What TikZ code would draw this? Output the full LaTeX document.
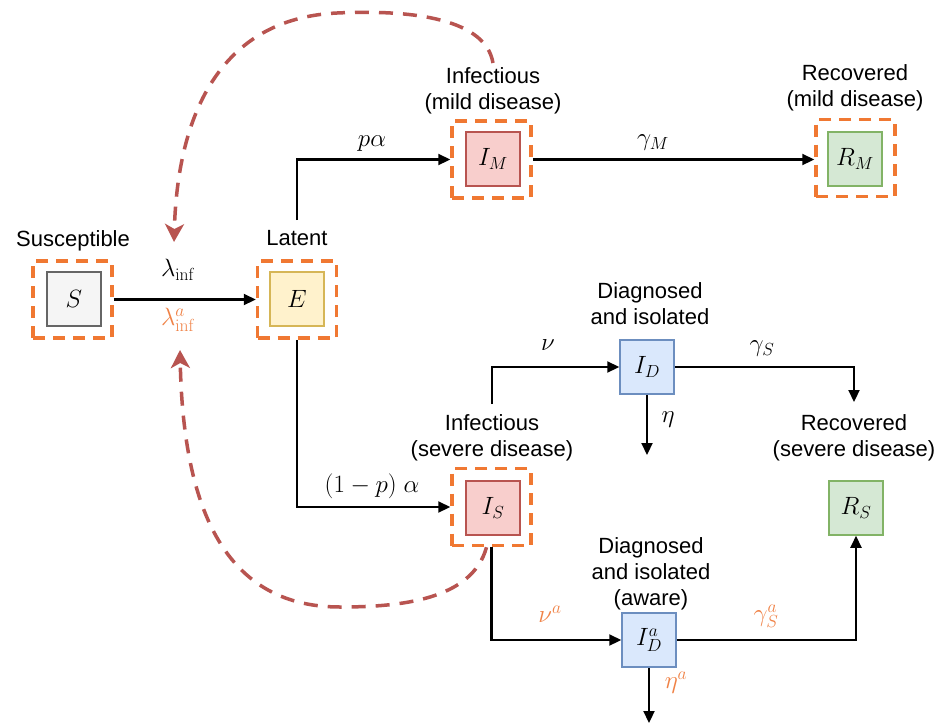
\RequirePackage{fix-cm}
\documentclass[tikz,border=0pt]{standalone}
\usepackage[no-math]{fontspec}
\setmainfont{Liberation Sans}
\usetikzlibrary{arrows.meta}
\definecolor{orA}{RGB}{240,120,50}
\definecolor{orT}{RGB}{240,130,70}
\definecolor{redC}{HTML}{B85450}
\definecolor{gSf}{HTML}{F5F5F5}\definecolor{gSd}{HTML}{666666}
\definecolor{yEf}{HTML}{FFF2CC}\definecolor{yEd}{HTML}{D6B656}
\definecolor{rIf}{HTML}{F8CECC}\definecolor{rId}{HTML}{B85450}
\definecolor{gRf}{HTML}{D5E8D4}\definecolor{gRd}{HTML}{82B366}
\definecolor{bDf}{HTML}{DAE8FC}\definecolor{bDd}{HTML}{6C8EBF}
\begin{document}
\begin{tikzpicture}[x=1pt,y=-1pt,font=\fontsize{22}{26}\selectfont,
  mathsize/.style={font=\fontsize{25}{30}\selectfont},
  box/.style={draw,line width=1.5pt,minimum width=54pt,minimum height=54pt,inner sep=0pt,mathsize},
  outerbox/.style={draw=orA,line width=3.5pt,dash pattern=on 12pt off 8pt,minimum width=79pt,minimum height=77pt,inner sep=0pt},
  lbl/.style={align=center,inner sep=0pt,anchor=north},
  flow/.style={line width=2.2pt,-{Triangle[length=12pt,width=11pt]}},
  rate/.style={inner sep=0pt,mathsize},
  orate/.style={inner sep=0pt,text=orT,mathsize},
  feedback/.style={draw=redC,line width=3.5pt,dash pattern=on 14pt off 10pt,-{Stealth[length=18pt,width=19pt,inset=5pt]}}]
\useasboundingbox[fill=white] (0,0) rectangle (951,726);
% compartments
\node[box,fill=gSf,draw=gSd] (S) at (74,299) {$S$};
\node[outerbox] (So) at (72.5,299.5) {};
\node[box,fill=yEf,draw=yEd] (E) at (297,299) {$E$};
\node[outerbox] (Eo) at (297,299.5) {};
\node[box,fill=rIf,draw=rId] (IM) at (493,159) {$I_M$};
\node[outerbox] (IMo) at (491.5,159.5) {};
\node[box,fill=gRf,draw=gRd] (RM) at (855,159) {$R_M$};
\node[outerbox] (RMo) at (855.5,158) {};
\node[box,fill=rIf,draw=rId] (IS) at (493,508) {$I_S$};
\node[outerbox] (ISo) at (491.5,507) {};
\node[box,fill=gRf,draw=gRd] (RS) at (856,508) {$R_S$};
\node[box,fill=bDf,draw=bDd] (ID) at (647,367) {$I_D$};
\node[box,fill=bDf,draw=bDd] (IDa) at (649,640) {$I^a_D$};
% labels
\node[lbl] (susc) at (73,230) {Susceptible};
\node[lbl] (lat) at (297,230) {Latent};
\node[lbl] (infM) at (493,67) {Infectious\\(mild disease)};
\node[lbl] (recM) at (855,64) {Recovered\\(mild disease)};
\node[lbl] (diag) at (650,282) {Diagnosed\\and isolated};
\node[lbl] (infS) at (492,414) {Infectious\\(severe disease)};
\node[lbl] (recS) at (854,414) {Recovered\\(severe disease)};
\node[lbl] (diagA) at (651,537) {Diagnosed\\and isolated\\(aware)};
% flows
\draw[flow] (So.east) -- (So.east -| Eo.west);
\draw[flow] ([yshift=10pt]lat.north) |- (IMo.west);
\draw[flow] (Eo.south) |- (ISo.west);
\draw[flow] (IMo.east) -- (IMo.east -| RMo.west);
\draw[flow] ([yshift=10pt]infS.north) |- (ID.west);
\draw[flow] (ID.east) -| ([yshift=12pt]recS.north);
\coordinate (etaEnd) at (647,455);
\draw[flow] (ID.south) -- (etaEnd);
\draw[flow] (ISo.south) |- (IDa.west);
\draw[flow] (IDa.east) -| (RS.south);
\coordinate (etaAEnd) at (649,723);
\draw[flow] (IDa.south) -- (etaAEnd);
% feedback
\coordinate (fbTop) at (174,242);
\draw[feedback] ([yshift=4pt]infM.north) .. controls (485,15) and (400,10) .. (337,13) .. controls (230,18) and (178,100) .. (fbTop);
\coordinate (fbBot) at (180,350);
\draw[feedback] ([xshift=-5pt]ISo.south) .. controls (472,600) and (400,607) .. (340,607) .. controls (220,607) and (183,500) .. (fbBot);
% rates
\node[rate] (rpa) at (372,144) {$p\alpha$};
\node[rate] (rgM) at (653,143) {$\gamma_M$};
\node[rate] (rl) at (178,270) {$\lambda_{\mathrm{inf}}$};
\node[orate] (rla) at (178,320) {$\lambda^a_{\mathrm{inf}}$};
\node[rate] (rpa2) at (372,486) {$(1-p)\;\alpha$};
\node[rate] (rnu) at (548,345) {$\nu$};
\node[rate] (rgS) at (762,349) {$\gamma_S$};
\node[rate] (reta) at (668,420) {$\eta$};
\node[orate] (rnua) at (550,614) {$\nu^a$};
\node[orate] (rgSa) at (766,616) {$\gamma^a_S$};
\node[orate] (retaa) at (676,683) {$\eta^a$};
\end{tikzpicture}
\end{document}
